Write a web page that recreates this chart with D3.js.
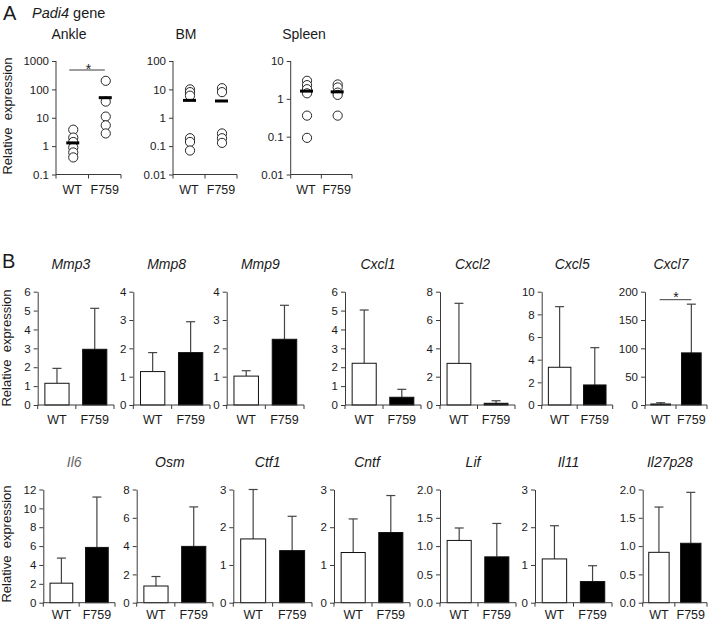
<!DOCTYPE html>
<html>
<head>
<meta charset="utf-8">
<script src="https://cdn.jsdelivr.net/npm/d3@7"></script>
<style>
  html, body { margin: 0; padding: 0; background: #fff; }
  svg { display: block; font-family: "Liberation Sans", Arial, sans-serif; }
</style>
</head>
<body>
<svg id="chart" width="708" height="622"></svg>
<script>
// ---------------- DATA ----------------
const groups = ["WT", "F759"];

// Panel A: Padi4 relative expression (individual points, log scale)
const tissues = ["Ankle", "BM", "Spleen"];
const ankleWT = [3.8, 2.0, 1.4, 0.9, 0.6, 0.4];
const ankleF759 = [200, 37, 11, 5.4, 2.8];
const bmWT = [10, 8, 6, 0.19, 0.14, 0.07];
const bmF759 = [11, 8, 0.28, 0.19, 0.13];
const spleenWT = [3.0, 2.3, 1.8, 1.4, 0.36, 0.093];
const spleenF759 = [2.4, 2.0, 1.46, 1.27, 0.36];
const meansWT = [1.3, 4.1, 1.6];
const meansF759 = [51, 3.9, 1.53];
const logDomainsMin = [0.1, 0.01, 0.01];
const logDomainsMax = [1000, 100, 10];
const logTickLabels = [
  ["0.1", "1", "10", "100", "1000"],
  ["0.01", "0.1", "1", "10", "100"],
  ["0.01", "0.1", "1", "10"]
];

// Panel B: bar charts (mean + SD)
const genesRow1 = ["Mmp3", "Mmp8", "Mmp9", "Cxcl1", "Cxcl2", "Cxcl5", "Cxcl7"];
const row1MeanWT = [1.15, 1.18, 1.02, 2.21, 2.94, 3.33, 1.8];
const row1SdWT = [0.79, 0.67, 0.19, 2.82, 4.24, 5.35, 2.2];
const row1MeanF759 = [2.95, 1.85, 2.32, 0.41, 0.12, 1.77, 92];
const row1SdF759 = [2.17, 1.09, 1.20, 0.42, 0.18, 3.29, 86];
const row1Max = [6, 4, 4, 6, 8, 10, 200];
const row1Step = [1, 1, 1, 1, 2, 2, 50];

const genesRow2 = ["Il6", "Osm", "Ctf1", "Cntf", "Lif", "Il11", "Il27p28"];
const row2MeanWT = [2.07, 1.18, 1.69, 1.33, 1.10, 1.16, 0.89];
const row2SdWT = [2.66, 0.67, 1.31, 0.89, 0.22, 0.88, 0.80];
const row2MeanF759 = [5.86, 3.98, 1.38, 1.86, 0.81, 0.56, 1.05];
const row2SdF759 = [5.34, 2.79, 0.91, 0.98, 0.59, 0.42, 0.90];
const row2Max = [12, 8, 3, 3, 2, 3, 2];
const row2Step = [2, 2, 1, 1, 0.5, 1, 0.5];

// significance markers (panel index in row)
const sigAnkle = true;
const sigRow1Index = 6;

// ---------------- LAYOUT ----------------
const AXIS = "#3a3a3a";
const TEXT = "#1a1a1a";
const svg = d3.select("#chart");

const aX0 = [56, 173, 290.7];
const aX1 = [121, 237, 352];
const aTitleX = [69, 186, 304];
const aTop = 61, aBottom = 174.5;

const r1X0 = [37.7, 133.3, 226.7, 345, 440, 541.7, 645];
const r1X1 = [114, 210, 304, 421, 515, 612.7, 707];
const r2X0 = [43.3, 136.7, 233.3, 334, 440, 535, 642.7];
const r2X1 = [115, 213, 312, 410, 516, 612, 707];
const r1Top = 291.7, r1Bottom = 405;
const r2Top = 489.5, r2Bottom = 602.7;

// ---------------- PANEL LETTERS ----------------
svg.append("text").attr("x", 3).attr("y", 20).attr("font-size", 20).attr("fill", TEXT).text("A");
const padT = svg.append("text").attr("x", 32).attr("y", 18).attr("font-size", 14.5).attr("fill", TEXT);
padT.append("tspan").attr("font-style", "italic").text("Padi4");
padT.append("tspan").text(" gene");
svg.append("text").attr("x", 2).attr("y", 268).attr("font-size", 20).attr("fill", TEXT).text("B");

function yLabel(cx, cy) {
  svg.append("text")
    .attr("transform", `translate(${cx},${cy}) rotate(-90)`)
    .attr("text-anchor", "middle")
    .attr("font-size", 13)
    .attr("fill", TEXT)
    .attr("xml:space", "preserve")
    .text("Relative  expression");
}
yLabel(12, 116);
yLabel(11, 348);
yLabel(11, 544);

function drawXAxis(g, x0, x1, y, xs, labelOffset) {
  g.append("line").attr("x1", x0).attr("x2", x1).attr("y1", y).attr("y2", y)
    .attr("stroke", AXIS).attr("stroke-width", 1);
  const mid = (x0 + x1) / 2;
  [x0, mid, x1].forEach(t => {
    g.append("line").attr("x1", t).attr("x2", t).attr("y1", y).attr("y2", y + 4)
      .attr("stroke", AXIS).attr("stroke-width", 1);
  });
  groups.forEach(gname => {
    g.append("text").attr("x", xs(gname)).attr("y", y + labelOffset)
      .attr("text-anchor", "middle").attr("font-size", 12.5).attr("fill", TEXT).text(gname);
  });
}

function styleYAxis(ax) {
  ax.select(".domain").attr("stroke", AXIS).attr("stroke-width", 1);
  ax.selectAll(".tick line").attr("stroke", AXIS);
  ax.selectAll(".tick text").attr("font-size", 11.5).attr("fill", TEXT)
    .attr("font-family", "Liberation Sans, Arial, sans-serif");
}

// ---------------- PANEL A ----------------
const pointsWT = [ankleWT, bmWT, spleenWT];
const pointsF759 = [ankleF759, bmF759, spleenF759];

tissues.forEach((tname, i) => {
  const g = svg.append("g");
  const y = d3.scaleLog().domain([logDomainsMin[i], logDomainsMax[i]]).range([aBottom, aTop]);
  const x = d3.scalePoint().domain(groups).range([aX0[i], aX1[i]]).padding(0.5);

  g.append("text").attr("x", aTitleX[i]).attr("y", 39).attr("text-anchor", "middle")
    .attr("font-size", 14).attr("fill", TEXT).text(tname);

  const tv = logTickLabels[i].map(Number);
  const ax = g.append("g").attr("transform", `translate(${aX0[i]},0)`)
    .call(d3.axisLeft(y).tickValues(tv).tickFormat((d, k) => logTickLabels[i][k])
      .tickSize(4).tickSizeOuter(0).tickPadding(3));
  styleYAxis(ax);
  ax.select(".domain").attr("d", `M0,${aTop}V${aBottom}`);

  drawXAxis(g, aX0[i], aX1[i], aBottom, x, 19);

  const pts = [pointsWT[i].map(v => ({ grp: "WT", v })), pointsF759[i].map(v => ({ grp: "F759", v }))].flat();
  g.selectAll("circle.pt").data(pts).enter().append("circle")
    .attr("class", "pt")
    .attr("cx", d => x(d.grp) + 1)
    .attr("cy", d => y(d.v))
    .attr("r", 4.6)
    .attr("fill", "#fff")
    .attr("stroke", "#111")
    .attr("stroke-width", 0.9);

  const means = [{ grp: "WT", v: meansWT[i] }, { grp: "F759", v: meansF759[i] }];
  g.selectAll("line.mean").data(means).enter().append("line")
    .attr("x1", d => x(d.grp) - 6).attr("x2", d => x(d.grp) + 7)
    .attr("y1", d => y(d.v)).attr("y2", d => y(d.v))
    .attr("stroke", "#000").attr("stroke-width", 3);

  if (i === 0 && sigAnkle) {
    g.append("line").attr("x1", x("WT") - 3).attr("x2", x("F759"))
      .attr("y1", 70).attr("y2", 70).attr("stroke", AXIS).attr("stroke-width", 1);
    g.append("text").attr("x", (x("WT") + x("F759")) / 2).attr("y", 73.5)
      .attr("text-anchor", "middle").attr("font-size", 14).attr("fill", TEXT).text("*");
  }
});

// ---------------- PANEL B ----------------
function barPanel(name, mWT, sWT, mF, sF, maxV, stepV, x0, x1, top, bottom, sig, titleColor, labelOffset) {
  const g = svg.append("g");
  const y = d3.scaleLinear().domain([0, maxV]).range([bottom, top]);
  const x = d3.scaleBand().domain(groups).range([x0, x1]).paddingInner(0.36).paddingOuter(0.19);

  g.append("text").attr("x", (x0 + x1) / 2 - 5).attr("y", top - 23)
    .attr("text-anchor", "middle").attr("font-size", 14).attr("font-style", "italic")
    .attr("fill", titleColor).text(name);

  const ticks = d3.range(0, maxV + stepV / 2, stepV);
  const fmt = stepV < 1 ? d3.format(".1f") : d3.format("d");
  const ax = g.append("g").attr("transform", `translate(${x0},0)`)
    .call(d3.axisLeft(y).tickValues(ticks).tickFormat(fmt).tickSize(4).tickSizeOuter(0).tickPadding(3));
  styleYAxis(ax);

  const data = [
    { grp: "WT", m: mWT, s: sWT, fill: "#fff" },
    { grp: "F759", m: mF, s: sF, fill: "#000" }
  ];
  // error bars (upper only)
  data.forEach(d => {
    const cx = x(d.grp) + x.bandwidth() / 2;
    g.append("line").attr("x1", cx).attr("x2", cx).attr("y1", y(d.m)).attr("y2", y(d.m + d.s))
      .attr("stroke", "#444").attr("stroke-width", 1.2);
    g.append("line").attr("x1", cx - 4.5).attr("x2", cx + 4.5).attr("y1", y(d.m + d.s)).attr("y2", y(d.m + d.s))
      .attr("stroke", "#444").attr("stroke-width", 1.2);
  });
  g.selectAll("rect.bar").data(data).enter().append("rect")
    .attr("class", "bar")
    .attr("x", d => x(d.grp))
    .attr("width", x.bandwidth())
    .attr("y", d => y(d.m))
    .attr("height", d => y(0) - y(d.m))
    .attr("fill", d => d.fill)
    .attr("stroke", "#111")
    .attr("stroke-width", 1);

  const xc = { WT: x("WT") + x.bandwidth() / 2, F759: x("F759") + x.bandwidth() / 2 };
  drawXAxis(g, x0, x1, bottom, k => xc[k], labelOffset);

  if (sig) {
    g.append("line").attr("x1", xc.WT - 1).attr("x2", xc.F759).attr("y1", top + 8).attr("y2", top + 8)
      .attr("stroke", AXIS).attr("stroke-width", 1);
    g.append("text").attr("x", (xc.WT + xc.F759) / 2).attr("y", top + 10.5)
      .attr("text-anchor", "middle").attr("font-size", 14).attr("fill", TEXT).text("*");
  }
}

genesRow1.forEach((n, i) => {
  barPanel(n, row1MeanWT[i], row1SdWT[i], row1MeanF759[i], row1SdF759[i], row1Max[i], row1Step[i],
    r1X0[i], r1X1[i], r1Top, r1Bottom, i === sigRow1Index, TEXT, 18.5);
});
genesRow2.forEach((n, i) => {
  barPanel(n, row2MeanWT[i], row2SdWT[i], row2MeanF759[i], row2SdF759[i], row2Max[i], row2Step[i],
    r2X0[i], r2X1[i], r2Top, r2Bottom, false, i === 0 ? "#666" : TEXT, 15.8);
});
</script>
</body>
</html>
